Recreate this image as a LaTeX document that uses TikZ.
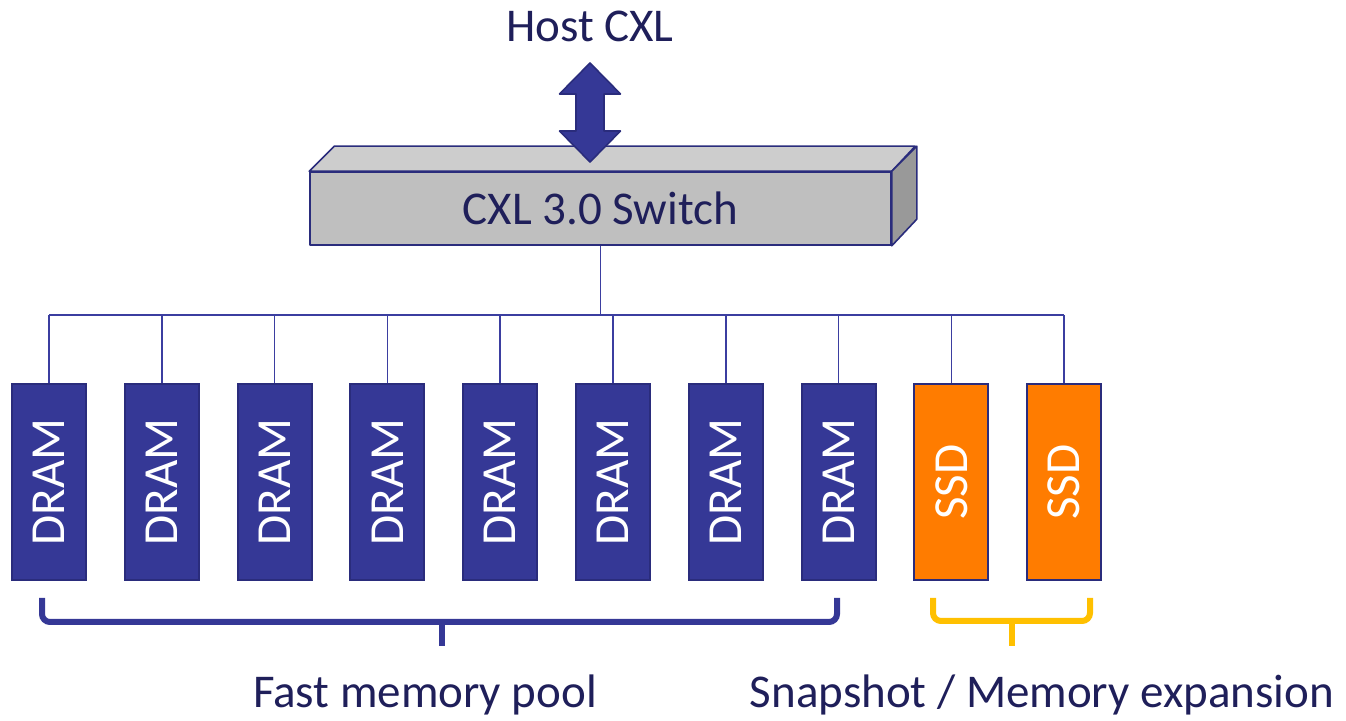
\documentclass[tikz,border=0pt]{standalone}
\usepackage{fontspec}
\usepackage{graphicx}
\setmainfont{Carlito}
\definecolor{navy}{HTML}{353896}
\definecolor{navyedge}{HTML}{2A2C7C}
\definecolor{txt}{HTML}{1F1F5A}
\definecolor{ssd}{HTML}{FF7C00}
\definecolor{bracey}{HTML}{FFC000}
\definecolor{frontf}{HTML}{BFBFBF}
\definecolor{topf}{HTML}{CDCDCD}
\definecolor{sidef}{HTML}{999999}
\definecolor{wire}{HTML}{3B3EA0}
\begin{document}
\begin{tikzpicture}[x=0.5pt,y=-0.5pt,
  membox/.style={draw=navyedge, line width=1pt, minimum width=37pt, minimum height=98pt, inner sep=0pt, text=white, font=\fontsize{24.5}{28}\selectfont},
  dram/.style={membox, fill=navy},
  ssdbox/.style={membox, fill=ssd},
  lbl/.style={text=txt, font=\fontsize{23.5}{28}\selectfont, inner sep=0pt},
  wireline/.style={draw=wire, line width=0.75pt},
  bracel/.style={line width=3pt, rounded corners=4pt},
  face/.style={draw=navyedge, line width=0.8pt, line join=round}]
\useasboundingbox (0,0) rectangle (1346,721);

% switch
\node[face, fill=frontf, minimum width=290.5pt, minimum height=36.5pt, lbl] (sw) at (600.5,208.5) {CXL 3.0 Switch};
\draw[face, fill=topf] (sw.north west) -- ++(25,-25) -- ++(581,0) -- (sw.north east) -- cycle;
\draw[face, fill=sidef] (sw.north east) -- ++(25,-25) -- ++(0,73) -- (sw.south east) -- cycle;

% host label and arrow
\node[lbl, anchor=base] (host) at (590,42) {Host CXL};
\draw[face, fill=navy] (590,63) -- (620.5,94) -- (604,94) -- (604,131) -- (620.5,131) -- (590,162)
  -- (559.5,131) -- (576,131) -- (576,94) -- (559.5,94) -- cycle;

% memory boxes
\foreach \i in {1,...,8}
  \node[dram] (d\i) at ({49+112.8*(\i-1)},482) {\rotatebox{90}{DRAM}};
\node[ssdbox] (s1) at (951.4,482) {\rotatebox{90}{SSD}};
\node[ssdbox] (s2) at (1064.2,482) {\rotatebox{90}{SSD}};

% bus
\coordinate (busy) at (0,315);
\draw[wireline] (sw.south) -- (sw.south |- busy);
\draw[wireline] (d1.north |- busy) -- (s2.north |- busy);
\foreach \n in {d1,d2,d3,d4,d5,d6,d7,d8,s1,s2}
  \draw[wireline] (\n.north) -- (\n.north |- busy);

% braces
\draw[bracel, draw=navy] (42,598) -- (42,622) -- (837,622) -- (837,598);
\draw[line width=3pt, draw=navy] (442,622) -- (442,646);
\draw[bracel, draw=bracey] (933,598) -- (933,621) -- (1090,621) -- (1090,598);
\draw[line width=3pt, draw=bracey] (1012,621) -- (1012,646);

% labels
\node[lbl, anchor=base] (fast) at (425,708) {Fast memory pool};
\node[lbl, anchor=base] (snap) at (1042,708) {Snapshot / Memory expansion};
\end{tikzpicture}
\end{document}
